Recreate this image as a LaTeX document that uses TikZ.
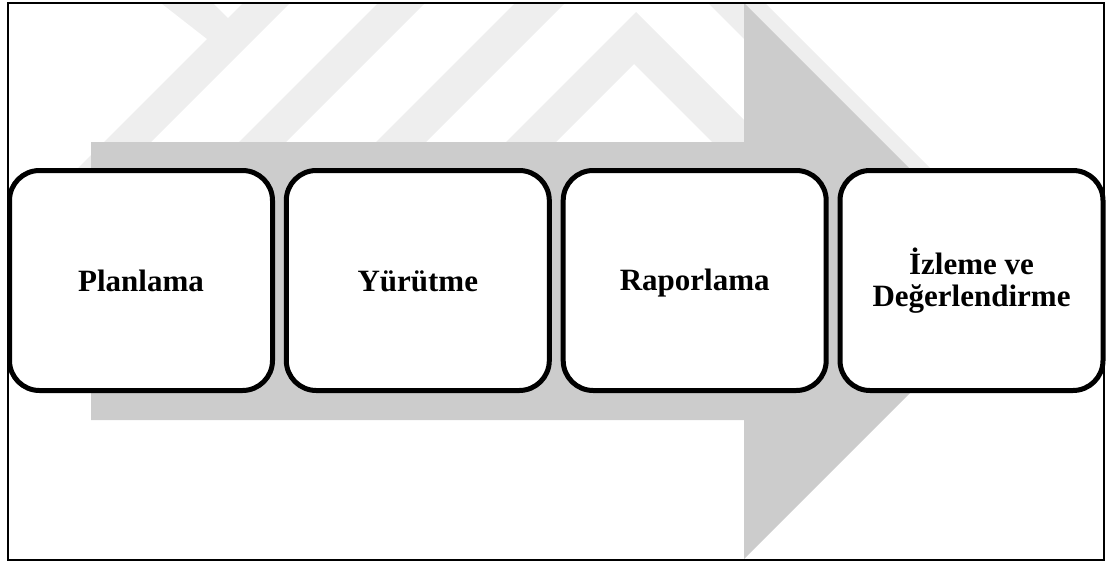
\documentclass[tikz,border=0pt]{standalone}
\usepackage{fontspec}
\setmainfont{Liberation Serif}
\definecolor{arrowgray}{RGB}{204,204,204}
\definecolor{markgray}{RGB}{238,238,238}
% label with fixed first-line height and last-line depth, so all baselines line up
\newcommand\stagetext[1]{\rule{0pt}{26pt}#1\rule[-5pt]{0pt}{5pt}}
\begin{document}
\begin{tikzpicture}[x=1pt,y=-1pt,
  stage/.style={draw=black, line width=5pt, fill=white, rounded corners=30pt,
    minimum width=263pt, minimum height=220pt, inner sep=0pt, align=center,
    font=\bfseries\fontsize{31}{32}\selectfont},
  frame/.style={draw=black, line width=1.5pt}]
\useasboundingbox (0,0) rectangle (1109,563);
% faint diagonal stripes in the background
\begin{scope}
\clip (8,3) rectangle (1104,172);
\fill[markgray] (157,0) -- (210,0) -- (228,18) -- (249,-3) -- (296,-3) -- (80,213) -- (33,213) -- (207,39) -- cycle;
\fill[markgray] (381,0) -- (428,0) -- (213,215) -- (166,215) -- cycle;
\fill[markgray] (518,0) -- (568,0) -- (353,215) -- (303,215) -- cycle;
\fill[markgray] (636,12) -- (823,199) -- (769,199) -- (634,64) -- (499,199) -- (449,199) -- cycle;
\fill[markgray] (705,0) -- (762,0) -- (962,200) -- (905,200) -- cycle;
\end{scope}
% large process arrow
\fill[arrowgray] (91,142) -- (744,142) -- (744,3) -- (1022,281) -- (744,559) -- (744,420) -- (91,420) -- cycle;
% outer frame
\draw[frame] (8,3) rectangle (1104,560);
% process stages
\node[stage] (plan) at (141,280.5) {\stagetext{Planlama}};
\node[stage] (exec) at (417.8,280.5) {\stagetext{Yürütme}};
\node[stage] (report) at (694.7,280.5) {\stagetext{Raporlama}};
\node[stage] (monitor) at (971.5,280.5) {\stagetext{İzleme ve\\Değerlendirme}};
\end{tikzpicture}
\end{document}
